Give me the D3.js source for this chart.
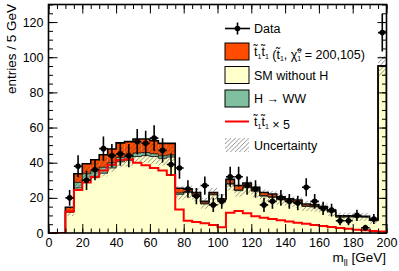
<!DOCTYPE html>
<html>
<head>
<meta charset="utf-8">
<script src="https://cdn.jsdelivr.net/npm/d3@7"></script>
<style>
body { margin: 0; background: #fff; }
text { font-family: "Liberation Sans", Arial, sans-serif; }
</style>
</head>
<body>
<div id="chart"></div>
<script>
const width = 399;
const height = 271;

// 5 GeV bins from 0 to 200
const binLow = d3.range(0, 200, 5);

// SM without H (yellow)
const smNoH = [0, 0, 11.8, 25.6, 30.3, 31.5, 34.0, 37.0, 40.5, 41.4,
    43.5, 44.0, 43.5, 42.5, 43.2, 22.0, 23.0, 21.2, 16.5, 21.7,
    18.5, 27.8, 24.1, 25.8, 23.8, 21.0, 20.3, 18.9, 17.8, 17.3,
    15.1, 14.8, 13.9, 12.0, 9.0, 9.1, 9.1, 9.0, 7.0, 94.7];
// H -> WW (green)
const hww = [0, 0, 0.4, 3.2, 3.4, 3.8, 3.4, 3.0, 2.5, 2.2,
    2.0, 1.8, 1.6, 1.4, 1.2, 0.8, 0.6, 0.5, 0.4, 0.4,
    0.3, 0.4, 0.4, 0.4, 0.3, 0.3, 0.3, 0.3, 0.3, 0.3,
    0.3, 0.3, 0.3, 0.3, 0.2, 0.2, 0.2, 0.2, 0.2, 0.3];
// stop pair signal (orange)
const stop = [0, 0, 2.44, 4.9, 5.74, 6.4, 7.1, 7.76, 8.3, 8.4,
    8.0, 7.7, 7.4, 7.1, 6.6, 2.66, 1.4, 1.26, 1.1, 0.92,
    0.66, 2.3, 2.5, 2.26, 1.9, 1.74, 1.6, 1.46, 1.32, 1.18,
    1.06, 0.92, 0.8, 0.68, 0.58, 0.48, 0.38, 0.3, 0.22, 0.16];
// observed entries
const dataN = [null, null, 20, 38, 30, 36, 48, 44, 45, 44,
    52, 51, 54, 47, 39, 37, 25, 21, 27, 16,
    18, 32, 32, 27, 25, 16, 18, 20, 18, 17,
    26, 18, 14, 13, 7, 7, 10, 3, 8, 114];
// background uncertainty
const unc = [0, 0, 2.5, 4.5, 4.8, 5.0, 5.2, 5.4, 5.6, 5.7,
    5.8, 5.8, 5.7, 5.6, 5.6, 3.8, 3.8, 3.6, 3.1, 3.5,
    3.3, 4.0, 3.8, 3.9, 3.7, 3.5, 3.4, 3.3, 3.2, 3.1,
    2.9, 2.9, 2.8, 2.6, 2.3, 2.3, 2.3, 2.3, 2.0, 5.6];

const colOrange = "#ff4c00";
const colYellow = "#ffffcc";
const colGreen = "#80c0a0";

const mLeft = 48.5, mRight = 386.5, mTop = 4.5, mBottom = 233;

const x = d3.scaleLinear().domain([0, 200]).range([mLeft, mRight]);
const y = d3.scaleLinear().domain([0, 130]).range([mBottom, mTop]);

const svg = d3.select("#chart")
    .append("svg")
    .attr("width", width)
    .attr("height", height);

const defs = svg.append("defs");
defs.append("pattern")
    .attr("id", "hatch")
    .attr("patternUnits", "userSpaceOnUse")
    .attr("width", 4.5)
    .attr("height", 4.5)
    .append("path")
    .attr("d", "M-1,1 l2,-2 M0,4.5 l4.5,-4.5 M3.5,5.5 l2,-2")
    .attr("stroke", "#444")
    .attr("stroke-width", 0.6);
defs.append("clipPath").attr("id", "plotclip")
    .append("rect").attr("x", mLeft).attr("y", mTop)
    .attr("width", mRight - mLeft).attr("height", mBottom - mTop);

const cumH = smNoH.map((v, i) => v + hww[i]);
const cumT = cumH.map((v, i) => v + stop[i]);

const plot = svg.append("g").attr("clip-path", "url(#plotclip)");

// stacked fills
const layers = [
    {lo: smNoH.map(() => 0), hi: smNoH, fill: colYellow},
    {lo: smNoH, hi: cumH, fill: colGreen},
    {lo: cumH, hi: cumT, fill: colOrange}
];
layers.forEach(l => {
    plot.append("g").selectAll("rect")
        .data(binLow)
        .join("rect")
        .attr("x", d => x(d))
        .attr("width", d => x(d + 5) - x(d))
        .attr("y", (d, i) => y(l.hi[i]))
        .attr("height", (d, i) => Math.max(0, y(l.lo[i]) - y(l.hi[i])))
        .attr("fill", l.fill);
});

function stepPts(vals) {
    const pts = [[0, 0]];
    vals.forEach((v, i) => pts.push([binLow[i], v]));
    pts.push([200, vals[vals.length - 1]]);
    pts.push([200, 0]);
    return pts;
}
const stepLine = d3.line()
    .x(d => x(d[0]))
    .y(d => y(d[1]))
    .curve(d3.curveStepAfter);

[smNoH, cumH].forEach(vals => {
    plot.append("path")
        .attr("d", stepLine(stepPts(vals)))
        .attr("fill", "none")
        .attr("stroke", "#000")
        .attr("stroke-width", 0.8);
});
plot.append("path")
    .attr("d", stepLine(stepPts(cumT)))
    .attr("fill", "none")
    .attr("stroke", "#000")
    .attr("stroke-width", 1.6);

// uncertainty band
plot.append("g").selectAll("rect")
    .data(binLow)
    .join("rect")
    .attr("x", d => x(d))
    .attr("width", d => x(d + 5) - x(d))
    .attr("y", (d, i) => y(cumH[i] + unc[i]))
    .attr("height", (d, i) => y(cumH[i] - unc[i]) - y(cumH[i] + unc[i]))
    .attr("fill", "url(#hatch)");

// stop x 5
plot.append("path")
    .attr("d", stepLine(stepPts(stop.map(v => v * 5))))
    .attr("fill", "none")
    .attr("stroke", "#ff0000")
    .attr("stroke-width", 2);

// data points with Poisson errors
const pts = binLow.map((d, i) => ({c: d + 2.5, n: dataN[i]})).filter(d => d.n);
const dg = plot.append("g");
dg.selectAll(".ev").data(pts).join("line")
    .attr("class", "ev")
    .attr("x1", d => x(d.c)).attr("x2", d => x(d.c))
    .attr("y1", d => y(d.n + Math.sqrt(d.n)))
    .attr("y2", d => y(d.n - Math.sqrt(d.n)))
    .attr("stroke", "#000").attr("stroke-width", 1.6);
dg.selectAll(".eh").data(pts).join("line")
    .attr("class", "eh")
    .attr("x1", d => x(d.c - 2.5)).attr("x2", d => x(d.c + 2.5))
    .attr("y1", d => y(d.n)).attr("y2", d => y(d.n))
    .attr("stroke", "#000").attr("stroke-width", 1.6);
dg.selectAll("circle").data(pts).join("circle")
    .attr("cx", d => x(d.c)).attr("cy", d => y(d.n))
    .attr("r", 2.8).attr("fill", "#000");

// axes, ticks inward on all four sides
const yMajor = d3.range(0, 121, 20);
const yMinor = d3.range(0, 131, 5);
const xMajor = d3.range(0, 201, 20);
const xMinor = d3.range(0, 201, 5);

function addAxis(axisFn, scale, tr, major, minor, labels) {
    const gMin = svg.append("g").attr("transform", tr)
        .call(axisFn(scale).tickValues(minor).tickSize(-4.5).tickFormat(""));
    const gMaj = svg.append("g").attr("transform", tr)
        .call(axisFn(scale).tickValues(major).tickSize(-9).tickPadding(5)
            .tickFormat(labels ? d3.format("d") : ""));
    [gMin, gMaj].forEach(g => {
        g.select(".domain").remove();
        g.selectAll("line").attr("stroke", "#000").attr("stroke-width", 1);
    });
    gMaj.selectAll("text").attr("font-size", 12.5).attr("fill", "#000")
        .style("font-family", "'Liberation Sans', Arial, sans-serif");
}
addAxis(d3.axisLeft, y, `translate(${mLeft},0)`, yMajor, yMinor, true);
addAxis(d3.axisRight, y, `translate(${mRight},0)`, yMajor, yMinor, false);
addAxis(d3.axisBottom, x, `translate(0,${mBottom})`, xMajor, xMinor, true);
addAxis(d3.axisTop, x, `translate(0,${mTop})`, xMajor, xMinor, false);

svg.append("rect")
    .attr("x", mLeft).attr("y", mTop)
    .attr("width", mRight - mLeft).attr("height", mBottom - mTop)
    .attr("fill", "none").attr("stroke", "#000").attr("stroke-width", 1.6);

// axis titles
svg.append("text")
    .attr("transform", "translate(16,4) rotate(-90)")
    .attr("text-anchor", "end")
    .attr("font-size", 13.5)
    .text("entries / 5 GeV");

const xt = svg.append("text")
    .attr("x", 386).attr("y", 262)
    .attr("text-anchor", "end")
    .attr("font-size", 13.5);
xt.append("tspan").text("m");
xt.append("tspan").attr("font-size", 9).attr("dy", 3.5).text("ll");
xt.append("tspan").attr("dy", -3.5).text(" [GeV]");

// legend
const lx = 225, lw = 24, tx = 254;
const rows = [28.5, 51.5, 75, 98.5, 121.5, 145];
const leg = svg.append("g");

leg.append("line").attr("x1", lx).attr("x2", lx + 25).attr("y1", rows[0]).attr("y2", rows[0])
    .attr("stroke", "#000").attr("stroke-width", 1.6);
leg.append("line").attr("x1", lx + 12.5).attr("x2", lx + 12.5).attr("y1", rows[0] - 6).attr("y2", rows[0] + 6)
    .attr("stroke", "#000").attr("stroke-width", 1.6);
leg.append("circle").attr("cx", lx + 12.5).attr("cy", rows[0]).attr("r", 2.8).attr("fill", "#000");

[[rows[1], colOrange], [rows[2], colYellow], [rows[3], colGreen]].forEach(([ry, c]) => {
    leg.append("rect").attr("x", lx).attr("y", ry - 8.5).attr("width", lw).attr("height", 17)
        .attr("fill", c).attr("stroke", "#000").attr("stroke-width", 1);
});
leg.append("line").attr("x1", lx).attr("x2", lx + lw).attr("y1", rows[4]).attr("y2", rows[4])
    .attr("stroke", "#ff0000").attr("stroke-width", 2);
leg.append("rect").attr("x", lx).attr("y", rows[5] - 7).attr("width", lw).attr("height", 14)
    .attr("fill", "url(#hatch)");

function legText(ry) {
    return leg.append("text").attr("x", tx).attr("y", ry + 4.5).attr("font-size", 12.5);
}
function stopPair(t) {
    t.append("tspan").text("t\u0303");
    t.append("tspan").attr("font-size", 7).attr("dy", 2.5).text("1");
    t.append("tspan").attr("dy", -2.5).text("t\u0303");
    t.append("tspan").attr("font-size", 7).attr("dy", 2.5).text("1");
    t.append("tspan").attr("dy", -2.5).text("");
}
legText(rows[0]).text("Data");
const t1 = legText(rows[1]);
stopPair(t1);
t1.append("tspan").text(" (t\u0303");
t1.append("tspan").attr("font-size", 7).attr("dy", 2.5).text("1");
t1.append("tspan").attr("dy", -2.5).text(", \u03c7\u0303");
t1.append("tspan").attr("font-size", 7).attr("dy", 2.5).text("1");
t1.append("tspan").attr("font-size", 7).attr("dx", -3.8).attr("dy", -8.5).text("0");
t1.append("tspan").attr("dy", 6).text(" = 200,105)");
legText(rows[2]).text("SM without H");
legText(rows[3]).text("H \u2192 WW");
const t4 = legText(rows[4]);
stopPair(t4);
t4.append("tspan").text(" \u00d7 5");
legText(rows[5]).text("Uncertainty");
</script>
</body>
</html>
